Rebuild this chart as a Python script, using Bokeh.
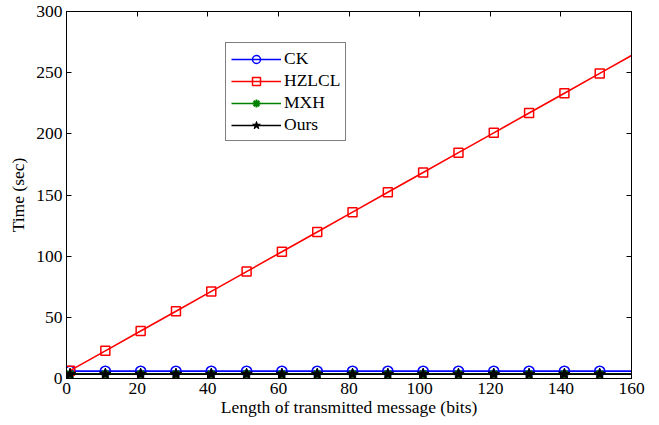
from bokeh.plotting import figure
from bokeh.models import LinearAxis, Range1d, Legend, LegendItem, FixedTicker
from bokeh.embed import file_html
from bokeh.resources import INLINE

# Data
x_marks = [1, 11, 21, 31, 41, 51, 61, 71, 81, 91, 101, 111, 121, 131, 141, 151]
x_line = [1, 11, 21, 31, 41, 51, 61, 71, 81, 91, 101, 111, 121, 131, 141, 151, 160]
ck = [6.0, 6.0, 6.0, 6.0, 6.0, 6.0, 6.0, 6.0, 6.0, 6.0, 6.0, 6.0, 6.0, 6.0, 6.0, 6.0, 6.0]
hzlcl = [6.4, 22.6, 38.8, 55.0, 71.2, 87.4, 103.6, 119.8, 136.0, 152.2, 168.4, 184.6,
         200.8, 217.0, 233.2, 249.4, 264.0]
mxh = [3.8, 3.8, 3.8, 3.8, 3.8, 3.8, 3.8, 3.8, 3.8, 3.8, 3.8, 3.8, 3.8, 3.8, 3.8, 3.8, 3.8]
ours = [3.6, 3.6, 3.6, 3.6, 3.6, 3.6, 3.6, 3.6, 3.6, 3.6, 3.6, 3.6, 3.6, 3.6, 3.6, 3.6, 3.6]
x_ticks = [0, 20, 40, 60, 80, 100, 120, 140, 160]
y_ticks = [0, 50, 100, 150, 200, 250, 300]

FONT = "Liberation Serif"
FS = "17.5px"

p = figure(width=659, height=425, output_backend="svg", toolbar_location=None,
           x_range=Range1d(0, 160), y_range=Range1d(0, 300),
           min_border_left=66, min_border_right=28, min_border_top=11, min_border_bottom=47,
           background_fill_color="white", border_fill_color="white")
p.grid.visible = False
p.outline_line_color = "black"
p.outline_line_width = 1

for ax in (p.xaxis[0], p.yaxis[0]):
    ax.major_tick_in = 5
    ax.major_tick_out = 0
    ax.minor_tick_line_color = None
    ax.axis_line_color = "black"
    ax.major_tick_line_color = "black"
    ax.major_label_text_font = FONT
    ax.major_label_text_font_size = FS
    ax.major_label_text_color = "black"
    ax.axis_label_text_font = FONT
    ax.axis_label_text_font_size = FS
    ax.axis_label_text_font_style = "normal"
    ax.axis_label_text_color = "black"
p.xaxis.ticker = FixedTicker(ticks=x_ticks)
p.yaxis.ticker = FixedTicker(ticks=y_ticks)
p.xaxis.axis_label = "Length of transmitted message (bits)"
p.yaxis.axis_label = "Time (sec)"
p.xaxis.major_label_standoff = 4
p.yaxis.major_label_standoff = 4
p.xaxis.axis_label_standoff = 0
p.yaxis.axis_label_standoff = 5

ra = LinearAxis(ticker=FixedTicker(ticks=y_ticks), major_tick_in=5, major_tick_out=0,
                minor_tick_line_color=None, major_label_standoff=0,
                major_label_overrides={t: "" for t in y_ticks})
ta = LinearAxis(ticker=FixedTicker(ticks=x_ticks), major_tick_in=5, major_tick_out=0,
                minor_tick_line_color=None, major_label_standoff=0,
                major_label_overrides={t: "" for t in x_ticks})
p.add_layout(ra, "right")
p.add_layout(ta, "above")

LW = 1.6
items = []
series = [("CK", ck, "blue", "circle", 10),
          ("HZLCL", hzlcl, "red", "square", 9),
          ("MXH", mxh, "green", "asterisk", 9),
          ("Ours", ours, "black", "star", 12)]
for name, ys, col, mk, sz in series:
    l = p.line(x_line, ys, line_color=col, line_width=LW)
    if mk == "star":
        s = p.scatter(x_marks, ys[:len(x_marks)], marker=mk, size=sz, line_color=col,
                      fill_color=col, line_width=1)
    elif mk == "asterisk":
        s = p.scatter(x_marks, ys[:len(x_marks)], marker=mk, size=sz, line_color=col,
                      line_width=2)
    else:
        s = p.scatter(x_marks, ys[:len(x_marks)], marker=mk, size=sz, line_color=col,
                      fill_color=None, line_width=1.5)
    items.append(LegendItem(label=name, renderers=[l, s]))

leg = Legend(items=items, location=(159, 237), orientation="vertical",
             label_text_font=FONT, label_text_font_size=FS, label_text_color="black",
             glyph_width=50, glyph_height=20, label_standoff=3, spacing=1,
             padding=5, margin=0,
             border_line_color="black", border_line_width=1,
             background_fill_color="white", background_fill_alpha=1)
p.add_layout(leg, "center")

open("out.html", "w").write(file_html(p, INLINE))
